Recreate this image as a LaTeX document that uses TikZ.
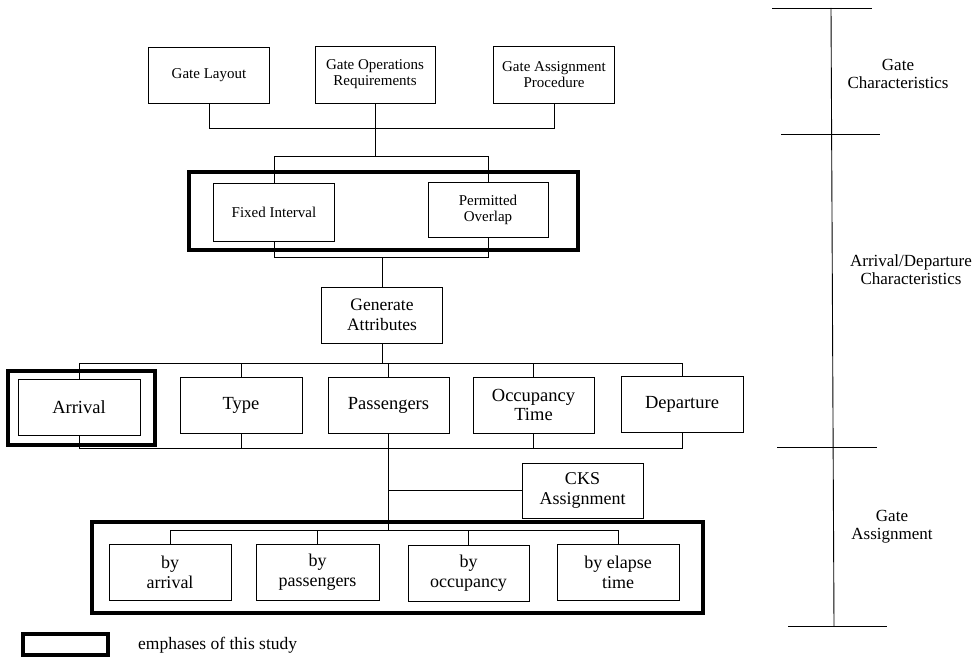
\documentclass[tikz,border=0pt]{standalone}
\usepackage{fontspec}
\setmainfont{Liberation Serif}
\begin{document}
\begin{tikzpicture}[x=1pt,y=-1pt,
  box/.style={draw, line width=0.8pt, inner sep=0pt, align=center, minimum width=121pt, minimum height=56pt},
  fs14/.style={font=\fontsize{15}{16}\selectfont},
  fs16/.style={font=\fontsize{18.5}{19}\selectfont},
  fsgen/.style={font=\fontsize{17.5}{20}\selectfont},
  fs17/.style={font=\fontsize{18}{20}\selectfont},
  thick frame/.style={draw, line width=3.2pt},
  conn/.style={draw, line width=0.8pt},
  scaleline/.style={draw, line width=0.9pt},
  sidelabel/.style={align=center, font=\fontsize{17}{18}\selectfont, inner sep=0pt}]
\useasboundingbox (0,0) rectangle (977,658);
\fill[white] (0,0) rectangle (977,658);

% top row
\node[box, fs14] (lay)  at (209,75)   {Gate Layout};
\node[box, fs14, minimum width=120pt, minimum height=57pt] (ops)  at (375,74.5) {Gate Operations\\Requirements};
\node[box, fs14, minimum height=57pt] (proc) at (554,74.5) {Gate Assignment\\Procedure};

% emphasis frame 1
\draw[thick frame] (189,172) rectangle (578,250);
\node[box, fs14, minimum height=58pt] (fix)  at (274,212)   {Fixed Interval};
\node[box, fs14, minimum width=120pt, minimum height=55pt] (perm) at (488,209.5) {Permitted\\Overlap};

% generate
\node[box, fsgen] (gen) at (382,315) {Generate\\Attributes};

% attribute row
\draw[thick frame] (8,371) rectangle (155,445);
\node[box, fs16, minimum width=122pt] (arr)  at (79,407)    {Arrival};
\node[box, fs16, minimum width=122pt] (type) at (241,405)   {Type};
\node[box, fs16] (pass) at (388.5,405) {Passengers};
\node[box, fs16] (occ)  at (533.5,405) {Occupancy\\Time};
\node[box, fs16, minimum width=122pt] (dep)  at (682,404)   {Departure};

% CKS
\node[box, fs17, minimum height=55pt] (cks) at (582.5,490.5) {CKS\\Assignment};

% emphasis frame 2
\draw[thick frame] (92,522) rectangle (703,613);
\node[box, fs17, minimum width=122pt] (byarr) at (170,572)   {by\\arrival};
\node[box, fs17, minimum width=123pt] (bypas) at (317.5,572) {by\\passengers};
\node[box, fs17] (byocc) at (468.5,573) {by\\occupancy};
\node[box, fs17, minimum width=122pt] (byel)  at (618,572)   {by elapse\\time};

% connectors
\draw[conn] (lay.south) -- ++(0,25) -| (proc.south);
\draw[conn] (ops.south) -- ++(0,53) coordinate (b1);
\draw[conn] (fix.north) -- (fix.north |- b1) -- (perm.north |- b1) -- (perm.north);
\draw[conn] (gen.north) -- ++(0,-29) coordinate (b2);
\draw[conn] (fix.south) -- (fix.south |- b2) -- (perm.south |- b2) -- (perm.south);
\draw[conn] (gen.south) -- ++(0,20) coordinate (b3);
\draw[conn] (arr.north) -- (arr.north |- b3) -- (dep.north |- b3) -- (dep.north);
\draw[conn] (type.north) -- (type.north |- b3);
\draw[conn] (pass.north) -- (pass.north |- b3);
\draw[conn] (occ.north) -- (occ.north |- b3);
\draw[conn] (pass.south) -- ++(0,15) coordinate (b4);
\draw[conn] (arr.south) -- (arr.south |- b4) -- (dep.south |- b4) -- (dep.south);
\draw[conn] (type.south) -- (type.south |- b4);
\draw[conn] (occ.south) -- (occ.south |- b4);
\draw[conn] (b4) -- ++(0,82) coordinate (b5);
\draw[conn] (cks.west) -- (cks.west -| b4);
\draw[conn] (byarr.north) -- (byarr.north |- b5) -- (byel.north |- b5) -- (byel.north);
\draw[conn] (bypas.north) -- (bypas.north |- b5);
\draw[conn] (byocc.north) -- (byocc.north |- b5);

% side scale
\coordinate (st) at (831,8);
\coordinate (sb) at (834,626);
\draw[scaleline] (st) -- (sb);
\draw[scaleline] (772,8) -- (872,8);
\draw[scaleline] (781,134) -- (880,134);
\draw[scaleline] (777,447) -- (877,447);
\draw[scaleline] (788,626) -- (887,626);
\node[sidelabel] (lg) at (898,74) {Gate\\Characteristics};
\node[sidelabel] (lad) at (911,270) {Arrival/Departure\\Characteristics};
\node[sidelabel] (lga) at (892,527) {Gate\\Assignment};

% legend
\draw[thick frame] (23,634) rectangle (108,655);
\node[anchor=west, inner sep=0pt, font=\fontsize{17.5}{18}\selectfont] (leg) at (138,645) {emphases of this study};
\end{tikzpicture}
\end{document}
